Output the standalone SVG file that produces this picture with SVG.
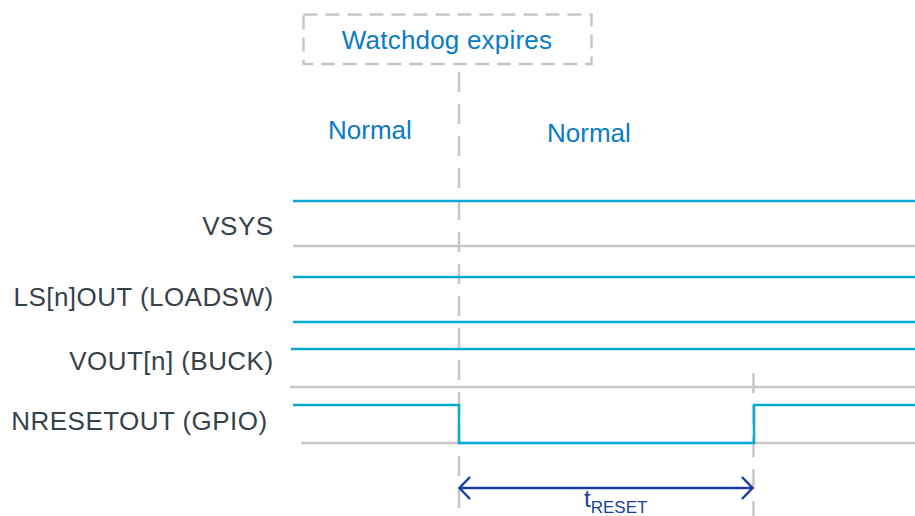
<svg xmlns="http://www.w3.org/2000/svg" width="915" height="516" viewBox="0 0 915 516">
<style>
.lbl{font-family:"Liberation Sans",Arial,sans-serif;font-size:26px;fill:#36424b;text-anchor:end;letter-spacing:0.45px}
.blue{font-family:"Liberation Sans",Arial,sans-serif;font-size:26px;fill:#0a7bc6}
.sig{stroke:#08aad2;stroke-width:2.5;fill:none}
.grid{stroke:#c6c6c6;stroke-width:2.5;fill:none}
.dash{stroke:#c6c6c6;stroke-width:2.5;fill:none;stroke-dasharray:20 12}
.dim{stroke:#1a3f9e;stroke-width:2.5;fill:none}
</style>
<rect width="915" height="516" fill="#ffffff"/>
<g id="watchdog-box">
<rect x="303.5" y="14.5" width="288" height="49.5" fill="none" stroke="#c6c6c6" stroke-width="2.5" stroke-dasharray="14 8"/>
<text class="blue" x="447" y="49" text-anchor="middle" letter-spacing="0.2">Watchdog expires</text>
</g>
<g id="phase-labels">
<text class="blue" x="328" y="139">Normal</text>
<text class="blue" x="547" y="142">Normal</text>
</g>
<g id="signal-labels">
<text class="lbl" x="273.5" y="235">VSYS</text>
<text class="lbl" x="273.5" y="306">LS[n]OUT (LOADSW)</text>
<text class="lbl" x="273.5" y="370">VOUT[n] (BUCK)</text>
<text class="lbl" x="267.5" y="430">NRESETOUT (GPIO)</text>
</g>
<g id="grid-lines">
<line class="grid" x1="293" y1="246" x2="915" y2="246"/>
<line class="grid" x1="290" y1="387" x2="915" y2="387"/>
<line class="grid" x1="301" y1="443" x2="915" y2="443"/>
<line class="dash" x1="459" y1="72" x2="459" y2="516"/>
<line class="dash" x1="753.5" y1="373" x2="753.5" y2="516"/>
</g>
<g id="signals">
<line class="sig" x1="293" y1="201" x2="915" y2="201"/>
<line class="sig" x1="293" y1="277" x2="915" y2="277"/>
<line class="sig" x1="293" y1="322" x2="915" y2="322"/>
<line class="sig" x1="291" y1="349" x2="915" y2="349"/>
<polyline class="sig" points="293,405 459,405 459,443 754,443 754,405 915,405"/>
</g>
<g id="connectors">
<line class="dim" x1="460" y1="488" x2="752" y2="488"/>
<polyline class="dim" points="470,477 459.5,488 470,499"/>
<polyline class="dim" points="742,477 752.5,488 742,499"/>
</g>
<g id="treset-label">
<text font-family="'Liberation Sans',Arial,sans-serif" fill="#1a3f9e" x="584" y="507" font-size="24">t<tspan font-size="17" y="513">RESET</tspan></text>
</g>
</svg>
